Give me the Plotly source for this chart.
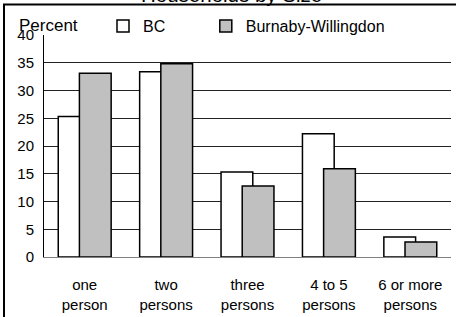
import plotly.graph_objects as go

categories = ["one<br>person", "two<br>persons", "three<br>persons", "4 to 5<br>persons", "6 or more<br>persons"]
bc_values = [25.3, 33.4, 15.3, 22.2, 3.6]
bw_values = [33.1, 34.8, 12.8, 15.9, 2.7]
y_ticks = [0, 5, 10, 15, 20, 25, 30, 35, 40]

FONT = "Liberation Sans, Arial, sans-serif"
NB = "&nbsp;"

fig = go.Figure()
fig.add_trace(go.Bar(
    x=categories, y=bc_values, name="BC" + NB * 8,
    marker=dict(color="white", line=dict(color="black", width=1.5)),
    width=0.39, offset=-0.325,
))
fig.add_trace(go.Bar(
    x=categories, y=bw_values, name="Burnaby-Willingdon",
    marker=dict(color="#c0c0c0", line=dict(color="black", width=1.5)),
    width=0.39, offset=-0.065,
))

fig.update_layout(
    width=456, height=317,
    margin=dict(l=44, r=5, t=35, b=60, autoexpand=False),
    paper_bgcolor="white", plot_bgcolor="white",
    barmode="overlay",
    font=dict(family=FONT, size=15, color="black"),
    showlegend=True,
    legend=dict(
        orientation="h", x=(103 - 44) / 407, y=1 + 9 / 222, xanchor="left", yanchor="middle",
        bgcolor="rgba(0,0,0,0)", font=dict(size=16), itemwidth=30,
        tracegroupgap=0, borderwidth=0,
    ),
    xaxis=dict(showgrid=False, showline=True, linecolor="#808080", linewidth=1,
               ticks="outside", ticklen=14, tickcolor="rgba(0,0,0,0)",
               tickfont=dict(size=15), fixedrange=True),
    yaxis=dict(range=[0, 40], tickvals=y_ticks, showgrid=True, gridcolor="#222222",
               gridwidth=1, showline=True, linecolor="black", linewidth=1,
               ticks="", tickfont=dict(size=15), zeroline=False, fixedrange=True,
               ticklabelstandoff=6),
    annotations=[
        dict(text="Percent", xref="paper", yref="paper", x=(17 - 44) / 407, y=1 + 10 / 222,
             xanchor="left", yanchor="middle", showarrow=False,
             font=dict(size=17)),
        dict(text="Households by Size", xref="paper", yref="paper", x=(231 - 44) / 407,
             y=1.122, xanchor="center", yanchor="bottom", showarrow=False,
             font=dict(size=20.5)),
    ],
    shapes=[
        dict(type="rect", xref="paper", yref="paper", x0=(4 - 44) / 407, x1=1.1, y0=-0.3,
             y1=1 + 30.5 / 222, line=dict(color="black", width=2), fillcolor="rgba(0,0,0,0)",
             layer="above"),
        dict(type="rect", xref="paper", yref="paper", x0=(83 - 44) / 407, x1=(409 - 44) / 407,
             y0=0.99, y1=1.012, line=dict(width=0), fillcolor="white", layer="above"),
    ],
)

fig.write_html("out.html", config={"displayModeBar": False},
               post_script="document.body.style.margin='0';")
